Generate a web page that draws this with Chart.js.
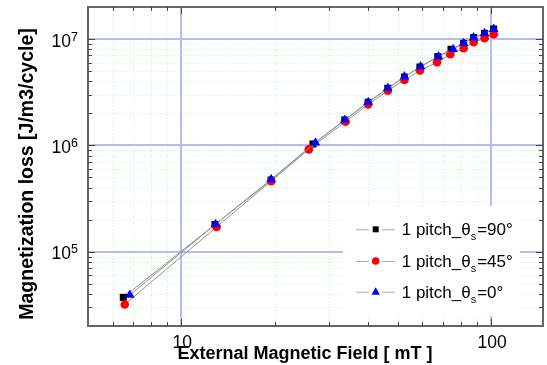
<!DOCTYPE html>
<html><head><meta charset="utf-8">
<script src="https://cdn.jsdelivr.net/npm/chart.js@4.4.1/dist/chart.umd.min.js"></script>
<style>html,body{margin:0;padding:0;background:#fff;overflow:hidden}</style>
</head><body>
<canvas id="c" width="547" height="365"></canvas>
<script>
// ---- data ----
const x90 = [6.50, 12.85, 19.5, 26.6, 33.7, 40.1, 46.4, 52.5, 58.9, 67.3, 74.2, 81.5, 87.8, 95.2, 101.9];
const y90 = [3.72e4, 1.80e5, 4.72e5, 1.03e6, 1.73e6, 2.54e6, 3.44e6, 4.39e6, 5.45e6, 6.82e6, 8.0e6, 9.11e6, 1.03e7, 1.13e7, 1.24e7];
const x45 = [6.57, 13.0, 19.5, 25.8, 33.9, 40.1, 46.4, 52.5, 58.9, 66.9, 73.8, 81.5, 87.8, 95.2, 101.9];
const y45 = [3.19e4, 1.71e5, 4.61e5, 9.17e5, 1.67e6, 2.43e6, 3.26e6, 4.12e6, 5.05e6, 6.04e6, 7.18e6, 8.18e6, 9.31e6, 1.015e7, 1.107e7];
const x0  = [6.82, 12.9, 19.5, 27.1, 33.7, 40.1, 46.4, 52.5, 59.2, 67.6, 75.4, 81.5, 87.8, 95.2, 101.9];
const y0  = [3.91e4, 1.81e5, 4.79e5, 1.058e6, 1.73e6, 2.54e6, 3.44e6, 4.42e6, 5.49e6, 6.82e6, 8.0e6, 9.11e6, 1.03e7, 1.13e7, 1.24e7];
const seriesAngles = ['90', '45', '0'];
const seriesPrefix = '1 pitch_θ';
const seriesSub = 's';
const xTickValues = [10, 100];
const xTickLabels = ['10', '100'];
const yTickValues = [1e5, 1e6, 1e7];
const yTickBase = '10';
const yTickExps = ['5', '6', '7'];
const xTitle = 'External Magnetic Field [ mT ]';
const yTitle = 'Magnetization loss [J/m3/cycle]';

const FONT = '"Liberation Sans", Arial, Helvetica, sans-serif';
const pts = (xs, ys) => xs.map((v, i) => ({x: v, y: ys[i]}));

const colors = ['#000000', '#ff0000', '#0000ff'];
const styles = ['rect', 'circle', 'triangle'];
const radii = [5, 4.3, 5.6];

function minorValues(min, max) {
  const out = [];
  for (let e = -2; e < 10; e++) {
    const d = Math.pow(10, e);
    for (let k = 2; k <= 9; k++) {
      const v = k * d;
      if (v > min * 1.0001 && v < max * 0.9999) out.push(v);
    }
  }
  return out;
}
function majorValues(min, max) {
  const out = [];
  for (let e = -2; e < 10; e++) {
    const v = Math.pow(10, e);
    if (v > min * 1.0001 && v < max * 0.9999) out.push(v);
  }
  return out;
}

const decorPlugin = {
  id: 'decor',
  beforeDatasetsDraw(chart) {
    const ctx = chart.ctx, a = chart.chartArea;
    const xs = chart.scales.x, ys = chart.scales.y;
    ctx.save();
    // minor grid (dotted green)
    ctx.strokeStyle = '#cdf0cd';
    ctx.lineWidth = 1;
    ctx.setLineDash([1, 2]);
    minorValues(xs.min, xs.max).forEach(v => {
      const px = Math.round(xs.getPixelForValue(v)) + 0.5;
      ctx.beginPath(); ctx.moveTo(px, a.top); ctx.lineTo(px, a.bottom); ctx.stroke();
    });
    minorValues(ys.min, ys.max).forEach(v => {
      const py = Math.round(ys.getPixelForValue(v)) + 0.5;
      ctx.beginPath(); ctx.moveTo(a.left, py); ctx.lineTo(a.right, py); ctx.stroke();
    });
    ctx.setLineDash([]);
    // major grid (blue)
    ctx.strokeStyle = '#babaf8';
    ctx.lineWidth = 2;
    majorValues(xs.min, xs.max).forEach(v => {
      const px = Math.round(xs.getPixelForValue(v));
      ctx.beginPath(); ctx.moveTo(px, a.top); ctx.lineTo(px, a.bottom); ctx.stroke();
    });
    majorValues(ys.min, ys.max).forEach(v => {
      const py = Math.round(ys.getPixelForValue(v));
      ctx.beginPath(); ctx.moveTo(a.left, py); ctx.lineTo(a.right, py); ctx.stroke();
    });
    ctx.restore();
  },
  afterDraw(chart) {
    const ctx = chart.ctx, a = chart.chartArea;
    const xs = chart.scales.x, ys = chart.scales.y;
    ctx.save();
    // frame
    ctx.strokeStyle = '#666';
    ctx.lineWidth = 2;
    ctx.strokeRect(a.left, a.top, a.right - a.left, a.bottom - a.top);
    // ticks (inward, all sides)
    ctx.strokeStyle = '#444';
    ctx.lineWidth = 1;
    const tick = (v, len, axis) => {
      if (axis === 'x') {
        const px = Math.round(xs.getPixelForValue(v)) + 0.5;
        ctx.beginPath();
        ctx.moveTo(px, a.bottom); ctx.lineTo(px, a.bottom - len);
        ctx.moveTo(px, a.top); ctx.lineTo(px, a.top + len);
        ctx.stroke();
      } else {
        const py = Math.round(ys.getPixelForValue(v)) + 0.5;
        ctx.beginPath();
        ctx.moveTo(a.left, py); ctx.lineTo(a.left + len, py);
        ctx.moveTo(a.right, py); ctx.lineTo(a.right - len, py);
        ctx.stroke();
      }
    };
    minorValues(xs.min, xs.max).forEach(v => tick(v, 4, 'x'));
    majorValues(xs.min, xs.max).forEach(v => tick(v, 7, 'x'));
    minorValues(ys.min, ys.max).forEach(v => tick(v, 4, 'y'));
    majorValues(ys.min, ys.max).forEach(v => tick(v, 7, 'y'));

    // x tick labels
    ctx.fillStyle = '#000';
    ctx.font = '17.5px ' + FONT;
    ctx.textAlign = 'center';
    ctx.textBaseline = 'alphabetic';
    xTickValues.forEach((v, i) => {
      ctx.fillText(xTickLabels[i], xs.getPixelForValue(v) + 1, a.bottom + 22);
    });
    // y tick labels with superscript
    yTickValues.forEach((v, i) => {
      const py = ys.getPixelForValue(v);
      ctx.font = '12.5px ' + FONT;
      ctx.textAlign = 'right';
      const ew = ctx.measureText(yTickExps[i]).width;
      const rightEdge = 78;
      ctx.fillText(yTickExps[i], rightEdge, py + 1.5);
      ctx.font = '17.5px ' + FONT;
      ctx.fillText(yTickBase, rightEdge - ew, py + 7.5);
    });
    // axis titles
    ctx.font = 'bold 18px ' + FONT;
    ctx.textAlign = 'center';
    ctx.fillText(xTitle, 305, 359);
    ctx.save();
    ctx.translate(33, 174);
    ctx.rotate(-Math.PI / 2);
    ctx.font = 'bold 19.5px ' + FONT;
    ctx.fillText(yTitle, 0, 0);
    ctx.restore();

    // legend
    ctx.fillStyle = '#fff';
    ctx.fillRect(343, 206, 177, 110);
    const rowsY = [229.3, 261, 291.7];
    chart.data.datasets.forEach((ds, i) => {
      const y = rowsY[i];
      ctx.strokeStyle = '#aaa';
      ctx.lineWidth = 1;
      ctx.beginPath();
      ctx.moveTo(356, y + 0.5); ctx.lineTo(369, y + 0.5);
      ctx.moveTo(382, y + 0.5); ctx.lineTo(395, y + 0.5);
      ctx.stroke();
      ctx.fillStyle = colors[i];
      const cx = 375.7;
      if (styles[i] === 'rect') {
        ctx.fillRect(cx - 3, y - 3, 6, 6);
      } else if (styles[i] === 'circle') {
        ctx.beginPath(); ctx.arc(cx, y, 3.8, 0, Math.PI * 2); ctx.fill();
      } else {
        ctx.beginPath();
        ctx.moveTo(cx, y - 4.5); ctx.lineTo(cx + 4.2, y + 3); ctx.lineTo(cx - 4.2, y + 3);
        ctx.closePath(); ctx.fill();
      }
      ctx.fillStyle = '#000';
      ctx.textAlign = 'left';
      ctx.font = '17px ' + FONT;
      let tx = 401.7;
      const by = y + 6;
      ctx.fillText(seriesPrefix, tx, by);
      tx += ctx.measureText(seriesPrefix).width;
      ctx.font = '11px ' + FONT;
      ctx.fillText(seriesSub, tx, by + 5);
      tx += ctx.measureText(seriesSub).width + 1;
      ctx.font = '17px ' + FONT;
      ctx.fillText('=' + seriesAngles[i] + '°', tx, by);
    });
    ctx.restore();
  }
};

const mk = (label, data, i, order) => ({
  label, data, showLine: true,
  borderColor: '#909090', borderWidth: 1,
  pointStyle: styles[i], pointRadius: radii[i], pointHoverRadius: radii[i],
  pointBackgroundColor: colors[i], pointBorderColor: colors[i], pointBorderWidth: 0,
  order
});

new Chart(document.getElementById('c'), {
  type: 'scatter',
  data: {
    datasets: [
      mk(seriesPrefix + seriesSub + '=' + seriesAngles[0] + '°', pts(x90, y90), 0, 3),
      mk(seriesPrefix + seriesSub + '=' + seriesAngles[1] + '°', pts(x45, y45), 1, 2),
      mk(seriesPrefix + seriesSub + '=' + seriesAngles[2] + '°', pts(x0, y0), 2, 1)
    ]
  },
  options: {
    responsive: false, animation: false, devicePixelRatio: 1,
    layout: { padding: { left: 88, top: 7, right: 4, bottom: 39 }, autoPadding: false },
    plugins: { legend: { display: false }, tooltip: { enabled: false } },
    scales: {
      x: { type: 'logarithmic', min: 5, max: 147, display: false },
      y: { type: 'logarithmic', min: 2e4, max: 2e7, display: false }
    }
  },
  plugins: [decorPlugin]
});
</script>
</body></html>
